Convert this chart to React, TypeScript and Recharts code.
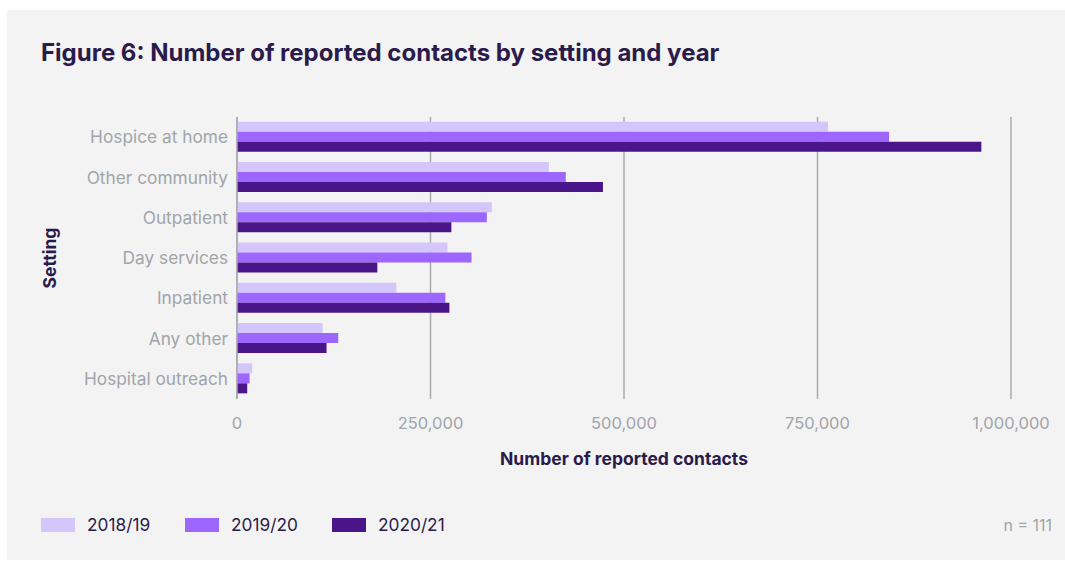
import React from 'react';
import { BarChart, Bar, XAxis, YAxis, CartesianGrid } from 'recharts';

const settings = [
  'Hospice at home',
  'Other community',
  'Outpatient',
  'Day services',
  'Inpatient',
  'Any other',
  'Hospital outreach',
];
const y2018 = [763600, 403000, 329200, 271800, 205900, 110600, 19600];
const y2019 = [842500, 424800, 322800, 303000, 269200, 130800, 16200];
const y2020 = [961700, 472800, 277000, 181300, 274400, 115700, 13200];
const xTicks = [0, 250000, 500000, 750000, 1000000];

const series = [
  { key: 'y2018', label: '2018/19', color: '#d4c5fb' },
  { key: 'y2019', label: '2019/20', color: '#9d66ff' },
  { key: 'y2020', label: '2020/21', color: '#4a1589' },
];

const data = settings.map((s, i) => ({
  setting: s,
  y2018: y2018[i],
  y2019: y2019[i],
  y2020: y2020[i],
}));

const FONT = 'Inter, "Noto Sans", sans-serif';
const DARK = '#2a1b4b';
const GREY = '#a1a4aa';

export default function App() {
  return (
    <div style={{ position: 'fixed', left: 0, top: 0, width: 1065, height: 561, background: '#fff', fontFamily: FONT }}>
      <div style={{ position: 'absolute', left: 7, top: 10, width: 1058, height: 550, background: '#f3f3f3' }} />
      <div
        style={{
          position: 'absolute',
          left: 41,
          top: 38,
          fontSize: 24,
          fontWeight: 700,
          color: DARK,
          whiteSpace: 'nowrap',
        }}
      >
        Figure 6: Number of reported contacts by setting and year
      </div>
      <div style={{ position: 'absolute', left: 0, top: 0 }}>
        <BarChart
          width={1065}
          height={561}
          data={data}
          layout="vertical"
          margin={{ top: 117, right: 54, bottom: 132, left: 37 }}
          barCategoryGap="11.5%"
          barGap={0}
        >
          <CartesianGrid horizontal={false} stroke="#a9abb0" strokeWidth={1.5} />
          <XAxis
            type="number"
            domain={[0, 1000000]}
            ticks={xTicks}
            tickFormatter={(v: number) => v.toLocaleString('en-GB')}
            axisLine={false}
            tickLine={false}
            tickSize={0}
            tickMargin={18}
            height={30}
            tick={{ fill: GREY, fontSize: 16.5, fontFamily: FONT }}
          />
          <YAxis
            type="category"
            dataKey="setting"
            width={200}
            axisLine={{ stroke: '#a9abb0', strokeWidth: 1.5 }}
            tickLine={false}
            tickSize={0}
            tickMargin={9}
            tick={{ fill: GREY, fontSize: 17.3, fontFamily: FONT }}
          />
          {series.map((s) => (
            <Bar key={s.key} dataKey={s.key} name={s.label} fill={s.color} isAnimationActive={false} />
          ))}
        </BarChart>
      </div>
      <div
        style={{
          position: 'absolute',
          left: 49,
          top: 258,
          transform: 'translate(-50%, -50%) rotate(-90deg)',
          fontSize: 17.5,
          fontWeight: 700,
          color: DARK,
          whiteSpace: 'nowrap',
        }}
      >
        Setting
      </div>
      <div
        style={{
          position: 'absolute',
          left: 624,
          top: 458,
          transform: 'translate(-50%, -50%)',
          fontSize: 17.5,
          fontWeight: 700,
          color: DARK,
          whiteSpace: 'nowrap',
        }}
      >
        Number of reported contacts
      </div>
      {series.map((s, i) => (
        <div
          key={s.key}
          style={{
            position: 'absolute',
            left: [41, 185, 332][i],
            top: 514,
            display: 'flex',
            alignItems: 'center',
            gap: 12,
            fontSize: 17.3,
            color: DARK,
          }}
        >
          <span style={{ display: 'inline-block', width: 34, height: 14, background: s.color }} />
          <span>{s.label}</span>
        </div>
      ))}
      <div style={{ position: 'absolute', right: 13, top: 515, fontSize: 16, color: GREY }}>n = 111</div>
    </div>
  );
}
